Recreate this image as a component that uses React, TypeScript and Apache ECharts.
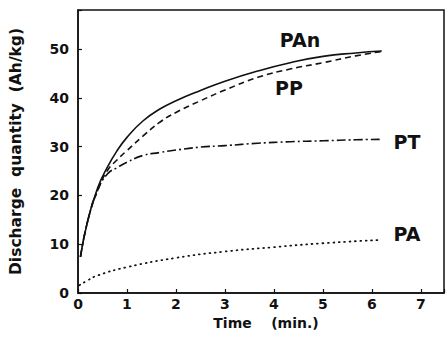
import React, { useEffect, useRef } from "react";
import * as echarts from "echarts";

const timeMain = [0.05, 0.2, 0.4, 0.6, 0.8, 1.0, 1.33, 1.67, 2.0, 2.5, 3.0, 3.67, 4.33, 5.0, 5.67, 6.2];
const valuesPAn = [7.4, 14.9, 21.5, 25.8, 29.2, 31.9, 35.3, 37.7, 39.4, 41.5, 43.4, 45.5, 47.2, 48.5, 49.2, 49.6];
const valuesPP = [7.4, 14.8, 21.0, 25.1, 27.3, 29.2, 32.2, 35.0, 37.0, 39.4, 41.6, 44.2, 45.9, 47.2, 48.6, 49.5];
const valuesPT = [7.4, 14.8, 21.0, 24.4, 25.7, 26.8, 28.2, 28.8, 29.3, 29.9, 30.2, 30.7, 31.0, 31.2, 31.4, 31.5];
const timePA = [0.03, 0.2, 0.4, 1.0, 2.0, 3.0, 4.0, 5.0, 6.2];
const valuesPA = [1.6, 2.6, 3.6, 5.3, 7.2, 8.5, 9.4, 10.2, 10.9];

const xTicks = [0, 1, 2, 3, 4, 5, 6, 7];
const yTicks = [0, 10, 20, 30, 40, 50];
const seriesNames = ["PAn", "PP", "PT", "PA"];

const pairs = (xs: number[], ys: number[]) => xs.map((x, i) => [x, ys[i]]);

export default function App() {
  const ref = useRef<HTMLDivElement>(null);
  useEffect(() => {
    if (!ref.current) return;
    const chart = echarts.init(ref.current, undefined, { renderer: "svg" });
    const font = "'DejaVu Sans', sans-serif";
    const lineBase = { color: "#111", width: 1.6 };
    chart.setOption({
      animation: false,
      backgroundColor: "#fff",
      grid: {
        left: 73,
        top: 10,
        right: 1,
        bottom: 51,
        show: true,
        borderColor: "#111",
        borderWidth: 1.5,
        backgroundColor: "transparent",
      },
      xAxis: {
        type: "value",
        min: 0,
        max: 7.47,
        interval: 1,
        name: "Time    (min.)",
        nameLocation: "middle",
        nameGap: 13,
        nameTextStyle: { fontFamily: font, fontWeight: "bold", fontSize: 14, color: "#111", padding: [0, 0, 0, 10] },
        axisLine: { show: true, lineStyle: { color: "#111", width: 1.5 } },
        axisTick: { show: true, inside: true, length: 4, lineStyle: { color: "#111", width: 1.2 } },
        axisLabel: {
          margin: 4,
          fontFamily: font,
          fontWeight: "bold",
          fontSize: 14,
          color: "#111",
          formatter: (v: number) => (xTicks.includes(v) ? String(v) : ""),
        },
        splitLine: { show: false },
      },
      yAxis: {
        type: "value",
        min: 0,
        max: 58,
        interval: 10,
        name: "Discharge  quantity  (Ah/kg)",
        nameLocation: "middle",
        nameGap: 54,
        nameTextStyle: { fontFamily: font, fontWeight: "bold", fontSize: 15.5, color: "#111" },
        axisLine: { show: true, lineStyle: { color: "#111", width: 1.5 } },
        axisTick: { show: true, inside: true, length: 4, lineStyle: { color: "#111", width: 1.2 } },
        axisLabel: {
          margin: 9,
          fontFamily: font,
          fontWeight: "bold",
          fontSize: 14,
          color: "#111",
          formatter: (v: number) => (yTicks.includes(v) ? String(v) : ""),
        },
        splitLine: { show: false },
      },
      series: [
        {
          name: seriesNames[0],
          type: "line",
          smooth: true,
          symbol: "none",
          data: pairs(timeMain, valuesPAn),
          lineStyle: { ...lineBase, type: "solid" },
        },
        {
          name: seriesNames[1],
          type: "line",
          smooth: true,
          symbol: "none",
          data: pairs(timeMain, valuesPP),
          lineStyle: { ...lineBase, type: [6, 4] },
        },
        {
          name: seriesNames[2],
          type: "line",
          smooth: true,
          symbol: "none",
          data: pairs(timeMain, valuesPT),
          lineStyle: { ...lineBase, type: [9, 3, 2, 3] },
        },
        {
          name: seriesNames[3],
          type: "line",
          smooth: true,
          symbol: "none",
          data: pairs(timePA, valuesPA),
          lineStyle: { ...lineBase, width: 1.8, type: [0.8, 4.6], cap: "round" },
        },
      ],
      graphic: [
        { type: "text", x: 300, y: 40, style: { text: seriesNames[0], font: `bold 19px ${font}`, fill: "#111", textAlign: "center", textVerticalAlign: "middle" } },
        { type: "text", x: 289, y: 88, style: { text: seriesNames[1], font: `bold 19px ${font}`, fill: "#111", textAlign: "center", textVerticalAlign: "middle" } },
        { type: "text", x: 407, y: 142, style: { text: seriesNames[2], font: `bold 19px ${font}`, fill: "#111", textAlign: "center", textVerticalAlign: "middle" } },
        { type: "text", x: 407, y: 234, style: { text: seriesNames[3], font: `bold 19px ${font}`, fill: "#111", textAlign: "center", textVerticalAlign: "middle" } },
      ],
    });
    return () => chart.dispose();
  }, []);
  return <div ref={ref} style={{ width: 447, height: 344, position: "absolute", left: 0, top: 0 }} />;
}
